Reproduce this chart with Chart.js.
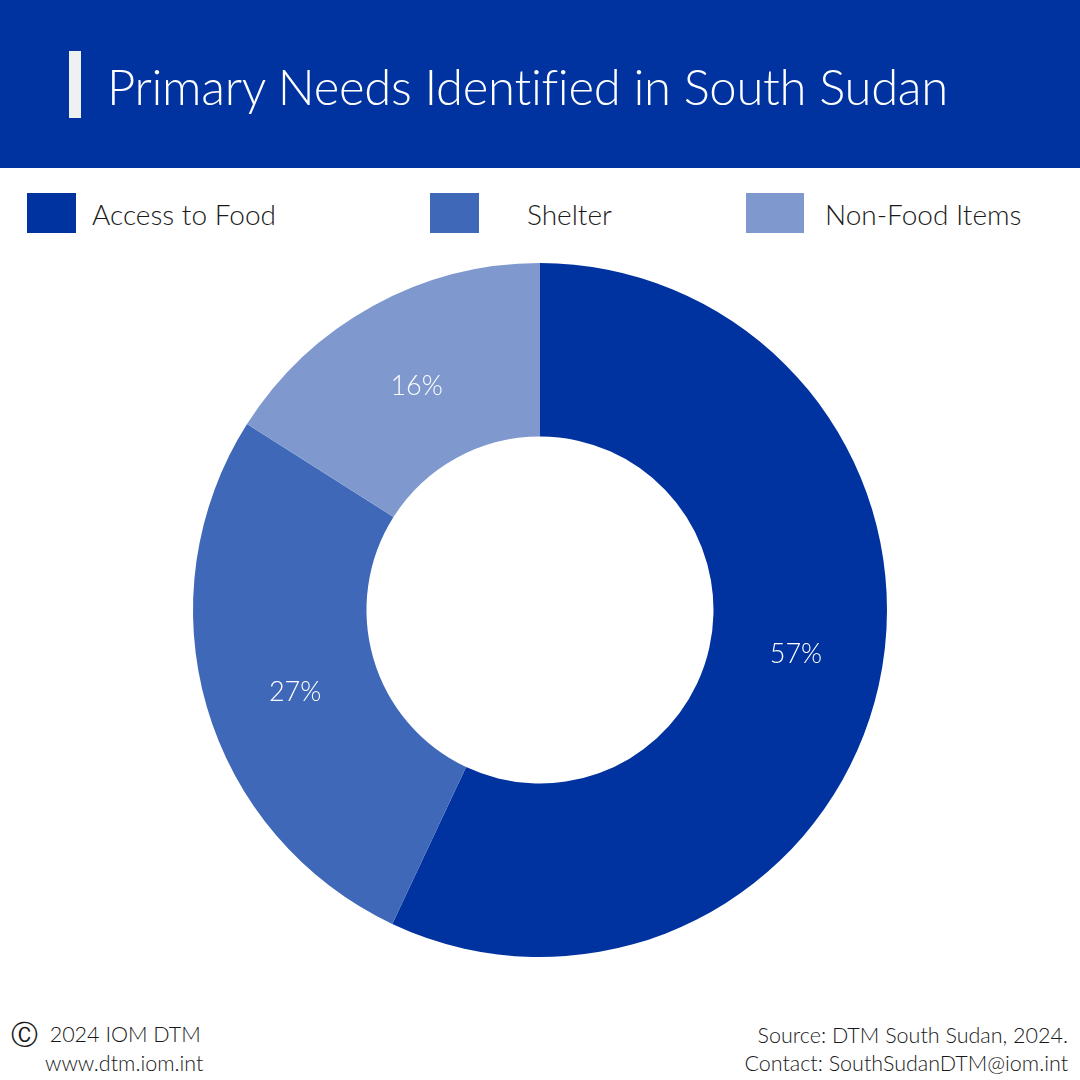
<!DOCTYPE html>
<html>
<head>
<meta charset="utf-8">
<script src="https://cdn.jsdelivr.net/npm/chart.js@4"></script>
<style>
  html,body{margin:0;padding:0;width:1080px;height:1080px;background:#fff;overflow:hidden;font-family:Lato,"Open Sans",sans-serif;font-weight:300;}
  #header{position:absolute;left:0;top:0;width:1080px;height:168px;background:#0033A0;}
  #bar{position:absolute;left:69px;top:51px;width:12px;height:67px;background:#EEF0F2;}
  #title{position:absolute;left:107px;top:54px;font-size:49px;color:#fff;line-height:64px;white-space:nowrap;letter-spacing:-0.3px;}
  .sw{position:absolute;top:193px;height:40px;}
  .lt{position:absolute;top:194px;font-size:28px;line-height:40px;color:#1a1a1a;white-space:nowrap;}
  #chartWrap{position:absolute;left:0;top:263px;width:1080px;height:694px;}
  .ft{position:absolute;font-size:21.5px;line-height:26px;color:#1a1a1a;white-space:nowrap;}
</style>
</head>
<body>
<div id="header"><div id="bar"></div><div id="title">Primary Needs Identified in South Sudan</div></div>
<div id="legend"></div>
<div id="chartWrap"><canvas id="c"></canvas></div>
<div class="ft" style="left:11px;top:1021px;"><span style="font-size:27px;vertical-align:-2px;">&#9400;</span>&nbsp; 2024 IOM DTM</div>
<div class="ft" style="left:45px;top:1050px;">www.dtm.iom.int</div>
<div class="ft" style="right:12px;top:1022px;text-align:right;">Source: DTM South Sudan, 2024.</div>
<div class="ft" style="right:12px;top:1050px;text-align:right;">Contact: SouthSudanDTM@iom.int</div>
<script>
const categories = ["Access to Food", "Shelter", "Non-Food Items"];
const values = [57, 27, 16];
const colors = ["#0033A0", "#4068B8", "#7F99CF"];

// legend (HTML, built from arrays)
const legendPos = [
  {sx:27, sw:49, tx:92},
  {sx:430, sw:49, tx:527},
  {sx:746, sw:58, tx:825}
];
const lg = document.getElementById('legend');
categories.forEach((c,i)=>{
  const s=document.createElement('div');s.className='sw';
  s.style.left=legendPos[i].sx+'px';s.style.width=legendPos[i].sw+'px';s.style.background=colors[i];
  const t=document.createElement('div');t.className='lt';t.style.left=legendPos[i].tx+'px';t.textContent=c;
  lg.appendChild(s);lg.appendChild(t);
});

// small label nudges (style only)
const labelNudge = [[2,-12],[5,10],[2,4]];
const labelPlugin = {
  id:'sliceLabels',
  afterDatasetsDraw(chart){
    const ctx=chart.ctx;
    const meta=chart.getDatasetMeta(0);
    ctx.save();
    ctx.fillStyle='#ffffff';
    ctx.font='300 27px Lato, "Open Sans", sans-serif';
    ctx.textAlign='center';ctx.textBaseline='middle';
    meta.data.forEach((arc,i)=>{
      const p=arc.tooltipPosition();
      ctx.fillText(values[i]+'%', p.x+labelNudge[i][0], p.y+labelNudge[i][1]);
    });
    ctx.restore();
  }
};

new Chart(document.getElementById('c'),{
  type:'doughnut',
  data:{labels:categories,datasets:[{data:values,backgroundColor:colors,borderWidth:0,hoverOffset:0}]},
  options:{
    responsive:true,maintainAspectRatio:false,animation:false,
    cutout:'50%',
    layout:{padding:0},
    plugins:{legend:{display:false},tooltip:{enabled:false}}
  },
  plugins:[labelPlugin]
});
</script>
</body>
</html>
